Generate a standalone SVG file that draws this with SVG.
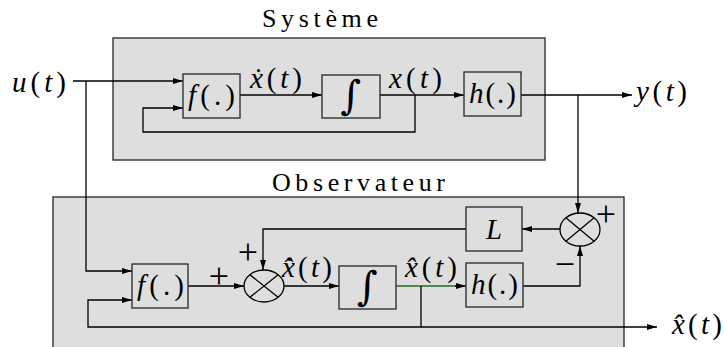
<svg xmlns="http://www.w3.org/2000/svg" width="724" height="347" viewBox="0 0 724 347">
<defs>
<marker id="ah" viewBox="0 0 10 6" refX="10" refY="3" markerWidth="10" markerHeight="6" markerUnits="userSpaceOnUse" orient="auto">
<path d="M0,0 L10,3 L0,6 z" fill="#000"/>
</marker>
</defs>
<style>
.panel{fill:#dedede;stroke:#333;stroke-width:1.4}
.blk{fill:#dedede;stroke:#333;stroke-width:1.4}
.sum{fill:none;stroke:#000;stroke-width:1.3}
.w{fill:none;stroke:#000;stroke-width:1.3}
.a{marker-end:url(#ah)}
.green{stroke:#1e6b1e}
</style>
<rect class="panel" x="113" y="38" width="432" height="122"/>
<rect class="panel" x="53" y="197" width="571" height="160"/>
<text font-family="Liberation Serif" font-size="26" x="262" y="27" textLength="116">Système</text>
<text font-family="Liberation Serif" font-size="26" x="272" y="191" textLength="173">Observateur</text>

<g id="connectors">
<path class="w a" d="M73,81 H183"/>
<path class="w a" d="M415,95 V132 H143 V108 H183"/>
<path class="w a" d="M240,95 H322"/>
<path class="w a" d="M380,95 H464"/>
<path class="w a" d="M521,95 H632"/>
<path class="w a" d="M578,95 V213"/>
<path class="w a" d="M86,81 V271 H132"/>
<path class="w a" d="M188,286 H244"/>
<path class="w a" d="M284,286 H339"/>
<path class="w green" d="M396,286 H456"/>
<path class="w a" d="M455,286 H466"/>
<path class="w a" d="M421,286 V327 H88 V300 H132"/>
<path class="w a" d="M421,327 H657"/>
<path class="w a" d="M523,286 H580 V246"/>
<path class="w a" d="M560,229 H522"/>
<path class="w a" d="M466,229 H263 V270"/>
</g>

<g id="f1"><rect class="blk" x="183" y="74" width="57" height="44"/><text font-family="Liberation Serif" font-size="29" x="188" y="105" textLength="47"><tspan font-style="italic">f</tspan>(.)</text></g>
<g id="int1"><rect class="blk" x="322" y="75" width="58" height="43"/><text font-family="DejaVu Serif" font-size="40" x="351" y="109" text-anchor="middle">∫</text></g>
<g id="h1"><rect class="blk" x="464" y="72" width="57" height="44"/><text font-family="Liberation Serif" font-size="29" x="469" y="103" textLength="47"><tspan font-style="italic">h</tspan>(.)</text></g>

<g id="f2"><rect class="blk" x="132" y="264" width="56" height="44"/><text font-family="Liberation Serif" font-size="29" x="137" y="295" textLength="47"><tspan font-style="italic">f</tspan>(.)</text></g>
<g id="sum1"><ellipse class="sum" cx="264" cy="286" rx="20" ry="16"/><path class="sum" d="M249.9,274.7 L278.1,297.3 M249.9,297.3 L278.1,274.7"/></g>
<g id="int2"><rect class="blk" x="339" y="266" width="57" height="43"/><text font-family="DejaVu Serif" font-size="40" x="367.5" y="300" text-anchor="middle">∫</text></g>
<g id="h2"><rect class="blk" x="466" y="263" width="57" height="44"/><text font-family="Liberation Serif" font-size="29" x="471" y="294" textLength="47"><tspan font-style="italic">h</tspan>(.)</text></g>
<g id="L"><rect class="blk" x="466" y="207" width="56" height="44"/><text font-family="Liberation Serif" font-size="29" font-style="italic" x="494" y="239" text-anchor="middle">L</text></g>
<g id="sum2"><ellipse class="sum" cx="580" cy="229.5" rx="20" ry="16.5"/><path class="sum" d="M565.9,217.8 L594.1,241.2 M565.9,241.2 L594.1,217.8"/></g>

<g id="labels" font-family="Liberation Serif" font-size="29">
<text x="12" y="92" textLength="54"><tspan font-style="italic">u</tspan>(<tspan font-style="italic">t</tspan>)</text>
<text x="636" y="101" textLength="51"><tspan font-style="italic">y</tspan>(<tspan font-style="italic">t</tspan>)</text>
<text x="250" y="88" textLength="52"><tspan font-style="italic">ẋ</tspan>(<tspan font-style="italic">t</tspan>)</text>
<text x="389" y="88" textLength="53"><tspan font-style="italic">x</tspan>(<tspan font-style="italic">t</tspan>)</text>
<text x="282" y="277" textLength="50"><tspan font-style="italic">x&#x302;&#x307;</tspan>(<tspan font-style="italic">t</tspan>)</text>
<text x="405" y="277" textLength="52"><tspan font-style="italic">x&#x302;</tspan>(<tspan font-style="italic">t</tspan>)</text>
<text x="672" y="334" textLength="50"><tspan font-style="italic">x&#x302;</tspan>(<tspan font-style="italic">t</tspan>)</text>
<text font-size="36" x="248" y="264" text-anchor="middle">+</text>
<text font-size="36" x="219" y="288" text-anchor="middle">+</text>
<text font-size="36" x="606" y="226" text-anchor="middle">+</text>
<text font-size="36" x="565" y="276" text-anchor="middle">−</text>
</g>
</svg>
